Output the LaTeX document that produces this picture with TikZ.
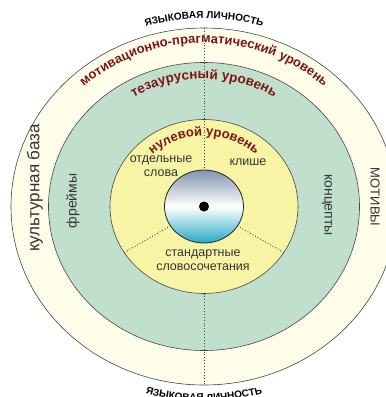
\documentclass[tikz,border=0pt]{standalone}
\usepackage{fontspec}
\setmainfont{Liberation Sans}
\usetikzlibrary{
    positioning,
    shapes.geometric,
    decorations.text
}
\definecolor{RingCream}{RGB}{254,253,234}
\definecolor{RingGreen}{RGB}{192,224,205}
\definecolor{RingYellow}{RGB}{248,244,166}
\definecolor{LevelRed}{RGB}{128,20,20}
\definecolor{EdgeGray}{RGB}{70,70,70}
\definecolor{CoreTop}{RGB}{130,148,172}
\definecolor{CoreBottom}{RGB}{38,168,198}

\begin{document}
\begin{tikzpicture}[
    x=1pt, y=1pt,
    ring/.style={ellipse, draw=EdgeGray, line width=0.6pt, inner sep=0pt, outer sep=0pt},
    sep/.style={dotted, line width=0.9pt, black!75},
    lab/.style={font=\fontsize{12.5}{14}\selectfont, text=black!80, align=center, inner sep=0pt},
    arctext/.style={decorate, decoration={text along path, text align=center, text={#1}}},
]
    % Canvas
    \useasboundingbox (-204,-190.5) rectangle (182,206.5);
    \fill[white] (-204,-190.5) rectangle (182,206.5);

    % Rings
    \node[ring, fill=RingCream, minimum width=386pt, minimum height=357pt] (persona) at (0,0) {};
    \node[ring, fill=RingGreen, minimum width=311pt, minimum height=288pt] (thesaurus) at (0,0) {};
    \node[ring, fill=RingYellow, minimum width=188pt, minimum height=174pt] (zero) at (0,0) {};
    \node[ring, draw=black!85, line width=0.8pt, top color=CoreTop, bottom color=CoreBottom,
          middle color=white, minimum width=79pt, minimum height=73pt] (core) at (0,0) {};
    \node[circle, fill=black, inner sep=0pt, minimum size=10pt] (dot) at (core.center) {};

    % Dotted separators
    \draw[sep] (persona.north) -- (core.north);
    \draw[sep] (zero.south) -- (persona.south);
    \foreach \a in {210,330}
        \draw[sep] (core.\a) -- (zero.\a);

    % Level titles along the arcs
    \path[arctext={|\fontsize{10}{12}\selectfont\bfseries|ЯЗЫКОВАЯ ЛИЧНОСТЬ}]
        (0,0) ++(160:203pt and 188pt) arc[start angle=160, end angle=20, x radius=203pt, y radius=188pt];
    \path[arctext={|\fontsize{10}{12}\selectfont\bfseries|ЯЗЫКОВАЯ ЛИЧНОСТЬ}]
        (0,0) ++(200:210pt and 194.5pt) arc[start angle=200, end angle=340, x radius=210pt, y radius=194.5pt];
    \path[arctext={|\fontsize{13}{15}\selectfont\bfseries\color{LevelRed}|мотивационно-прагматический уровень}]
        (0,0) ++(170:176pt and 163.5pt) arc[start angle=170, end angle=10, x radius=176pt, y radius=163.5pt];
    \path[arctext={|\fontsize{13.5}{15}\selectfont\bfseries\color{LevelRed}|тезаурусный уровень}]
        (0,0) ++(170:137pt and 127.5pt) arc[start angle=170, end angle=10, x radius=137pt, y radius=127.5pt];
    \path[arctext={|\fontsize{13}{15}\selectfont\bfseries\color{LevelRed}|нулевой уровень}]
        (0,0) ++(170:76pt and 70.5pt) arc[start angle=170, end angle=10, x radius=76pt, y radius=70.5pt];

    % Zero level contents
    \node[lab] (words) at (-43,40.5) {отдельные\\слова};
    \node[lab] (cliche) at (44,44.5) {клише};
    \node[lab] (phrases) at (-1,-53.5) {стандартные\\словосочетания};

    % Thesaurus level contents
    \node[lab, rotate=90, font=\fontsize{14}{16}\selectfont] (frames) at (-131,5.5) {фреймы};
    \node[lab, rotate=-90, font=\fontsize{14}{16}\selectfont] (concepts) at (123,1.5) {концепты};

    % Outer ring contents
    \node[lab, rotate=90, font=\fontsize{17}{19}\selectfont] (culture) at (-169,18.5) {культурная база};
    \node[lab, rotate=-90, font=\fontsize{13}{15}\selectfont] (motives) at (171,9.5) {МОТИВЫ};
\end{tikzpicture}
\end{document}
